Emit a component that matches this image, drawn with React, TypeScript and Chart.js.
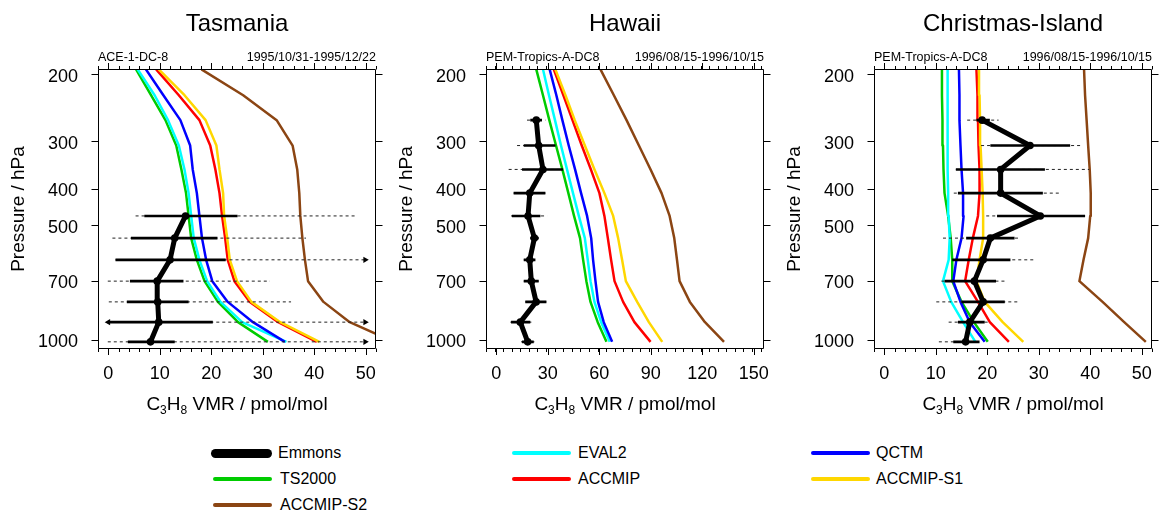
import React, { useEffect, useRef } from 'react';
import { Chart, registerables } from 'chart.js';

Chart.register(...registerables);
Chart.defaults.font.family = '"Liberation Sans", Arial, Helvetica, sans-serif';
Chart.defaults.color = '#000';

// ---------- shared axes ----------
// standard-atmosphere pressure (hPa) of the 0..12 km sampling levels
const pressureLevels = [1013, 899, 795, 701, 616, 540, 472, 411, 356, 308, 264, 227, 194];
const pressureTicks = [200, 300, 400, 500, 700, 1000];
const pressureMin = 193.6;
const pressureMax = 1058;

const modelNames = ['TS2000', 'EVAL2', 'QCTM', 'ACCMIP', 'ACCMIP-S1', 'ACCMIP-S2'];
const modelColors = ['#00CC00', '#00FFFF', '#0000FF', '#FF0000', '#FFD700', '#8B4513'];

// ---------- Tasmania ----------
const tasXTicks = [0, 10, 20, 30, 40, 50];
const tasTS2000 = [31.0, 25.2, 21.3, 18.7, 17.2, 16.1, 15.6, 15.1, 14.2, 13.2, 11.1, 8.3, 5.4];
const tasEVAL2 = [34.6, 26.0, 21.8, 19.2, 17.7, 16.6, 16.1, 15.6, 14.8, 13.7, 11.6, 9.0, 5.7];
const tasQCTM = [34.3, 28.1, 23.2, 20.2, 19.0, 18.2, 17.7, 17.2, 16.4, 15.9, 14.0, 10.7, 7.3];
const tasACCMIP = [40.5, 33.0, 27.5, 24.5, 23.2, 22.7, 22.1, 21.6, 20.8, 19.8, 17.7, 13.7, 9.3];
const tasACCMIPS1 = [41.0, 33.4, 27.8, 25.0, 23.6, 23.1, 22.5, 22.3, 21.6, 21.0, 18.9, 14.8, 9.8];
const tasACCMIPS2 = [55.5, 46.9, 41.8, 38.8, 38.2, 37.7, 37.3, 37.1, 36.7, 35.8, 32.7, 26.2, 18.1];
const tasEmmons = [8.2, 9.8, 9.6, 9.5, 12.0, 12.9, 15.0];
const tasSigmaLo = [3.8, 0.0, 3.6, 4.2, 1.4, 4.4, 7.0];
const tasSigmaHi = [12.9, 20.3, 15.6, 14.6, 22.8, 21.2, 25.1];
const tasRangeLo = [-0.1, 0.0, 0.1, -0.1, 1.4, 0.8, 5.3];
const tasRangeHi = [49.9, 49.9, 35.5, 31.4, 49.9, 38.4, 47.9];
const tasArrowX = [49.9, 0.0, 49.9, 49.9];
const tasArrowP = [1013, 899, 899, 616];
const tasArrowRot = [90, -90, 90, 90];

// ---------- Hawaii ----------
const hawXTicks = [0, 30, 60, 90, 120, 150];
const hawTS2000 = [64.2, 59.1, 54.9, 52.5, 50.6, 48.8, 45.3, 42.0, 38.5, 34.8, 30.9, 27.2, 23.3];
const hawEVAL2 = [66.1, 61.1, 57.2, 54.9, 53.3, 51.6, 48.1, 44.7, 41.2, 37.7, 34.2, 30.7, 27.2];
const hawQCTM = [67.5, 62.6, 59.3, 57.8, 56.4, 55.3, 52.9, 49.4, 45.9, 42.2, 38.5, 35.0, 31.1];
const hawACCMIP = [89.9, 80.5, 73.9, 68.9, 66.9, 65.0, 63.0, 60.1, 55.1, 49.8, 44.4, 39.1, 33.5];
const hawACCMIPS1 = [96.7, 88.9, 82.1, 75.5, 73.3, 71.0, 68.1, 63.0, 57.2, 51.6, 45.7, 40.3, 34.4];
const hawACCMIPS2 = [132.7, 121.6, 112.8, 106.8, 105.3, 103.7, 101.0, 96.3, 89.9, 83.1, 75.9, 68.5, 60.7];
const hawEmmons = [18.3, 14.0, 23.2, 20.4, 19.5, 22.2, 18.5, 19.5, 27.2, 24.7, 23.3];
const hawSigmaLo = [15.0, 8.6, 16.9, 16.0, 16.0, 19.8, 9.1, 10.1, 15.0, 16.0, 19.8];
const hawSigmaHi = [21.8, 19.8, 29.2, 24.7, 22.8, 24.7, 25.7, 28.6, 38.9, 34.4, 26.6];
const hawRangeLo = [14.4, 8.2, 16.9, 16.0, 16.0, 19.8, 8.6, 10.1, 7.2, 12.1, 17.9];
const hawRangeHi = [22.2, 21.4, 29.2, 24.7, 22.8, 24.7, 29.6, 28.6, 38.9, 34.4, 28.6];

// ---------- Christmas Island ----------
const chrXTicks = [0, 10, 20, 30, 40, 50];
const chrTS2000 = [20.1, 17.4, 15.0, 13.2, 13.2, 12.9, 12.4, 11.7, 11.5, 11.4, 11.3, 11.2, 11.2];
const chrEVAL2 = [17.7, 15.3, 13.0, 11.4, 12.5, 12.7, 12.5, 12.4, 12.3, 12.3, 12.3, 12.3, 12.3];
const chrQCTM = [19.5, 16.6, 14.8, 13.4, 14.0, 15.0, 15.4, 15.3, 15.0, 14.8, 14.6, 14.6, 14.5];
const chrACCMIP = [24.2, 20.5, 18.2, 15.7, 16.4, 17.2, 18.2, 18.5, 18.5, 18.3, 18.2, 18.1, 17.9];
const chrACCMIPS1 = [27.0, 23.0, 19.5, 17.9, 18.5, 19.2, 19.2, 19.1, 18.9, 18.7, 18.6, 18.5, 18.4];
const chrACCMIPS2 = [50.8, 46.6, 42.4, 37.9, 38.7, 39.6, 40.0, 40.1, 39.9, 39.6, 39.3, 39.0, 38.8];
const chrEmmons = [15.8, 16.6, 19.2, 17.5, 19.2, 20.6, 30.3, 22.6, 22.6, 28.3, 19.0];
const chrSigmaLo = [13.4, 14.3, 15.0, 11.7, 13.2, 15.9, 21.9, 14.3, 13.9, 20.6, 17.9];
const chrSigmaHi = [18.5, 19.5, 23.4, 21.7, 24.5, 25.3, 39.0, 30.8, 31.2, 36.1, 20.5];
const chrRangeLo = [10.6, 12.5, 10.1, 11.1, 13.2, 11.4, 19.8, 13.5, 13.9, 18.8, 16.1];
const chrRangeHi = [18.5, 20.1, 26.3, 23.4, 29.3, 26.3, 39.0, 34.0, 39.8, 38.2, 22.2];

type PanelDef = {
  title: string;
  campaign: string;
  period: string;
  xMin: number;
  xMax: number;
  xTicks: number[];
  xMinorStep: number;
  models: number[][];
  emmons: number[];
  sigmaLo: number[];
  sigmaHi: number[];
  rangeLo: number[];
  rangeHi: number[];
  arrowX: number[];
  arrowP: number[];
  arrowRot: number[];
};

const panels: PanelDef[] = [
  {
    title: 'Tasmania', campaign: 'ACE-1-DC-8', period: '1995/10/31-1995/12/22',
    xMin: -2, xMax: 52, xTicks: tasXTicks, xMinorStep: 2,
    models: [tasTS2000, tasEVAL2, tasQCTM, tasACCMIP, tasACCMIPS1, tasACCMIPS2],
    emmons: tasEmmons, sigmaLo: tasSigmaLo, sigmaHi: tasSigmaHi, rangeLo: tasRangeLo, rangeHi: tasRangeHi,
    arrowX: tasArrowX, arrowP: tasArrowP, arrowRot: tasArrowRot,
  },
  {
    title: 'Hawaii', campaign: 'PEM-Tropics-A-DC8', period: '1996/08/15-1996/10/15',
    xMin: -6, xMax: 156, xTicks: hawXTicks, xMinorStep: 5,
    models: [hawTS2000, hawEVAL2, hawQCTM, hawACCMIP, hawACCMIPS1, hawACCMIPS2],
    emmons: hawEmmons, sigmaLo: hawSigmaLo, sigmaHi: hawSigmaHi, rangeLo: hawRangeLo, rangeHi: hawRangeHi,
    arrowX: [], arrowP: [], arrowRot: [],
  },
  {
    title: 'Christmas-Island', campaign: 'PEM-Tropics-A-DC8', period: '1996/08/15-1996/10/15',
    xMin: -2, xMax: 52, xTicks: chrXTicks, xMinorStep: 2,
    models: [chrTS2000, chrEVAL2, chrQCTM, chrACCMIP, chrACCMIPS1, chrACCMIPS2],
    emmons: chrEmmons, sigmaLo: chrSigmaLo, sigmaHi: chrSigmaHi, rangeLo: chrRangeLo, rangeHi: chrRangeHi,
    arrowX: [], arrowP: [], arrowRot: [],
  },
];

const CANVAS_W = 387;
const CANVAS_H = 430;
const FONT = '"Liberation Sans", Arial, Helvetica, sans-serif';

function barData(lo: number[], hi: number[]) {
  const out: any[] = [];
  lo.forEach((v, i) => {
    out.push({ x: v, y: pressureLevels[i] });
    out.push({ x: hi[i], y: pressureLevels[i] });
    out.push({ x: null, y: null });
  });
  return out;
}

function makeFramePlugin(p: PanelDef) {
  return {
    id: 'frame',
    afterDraw(chart: any) {
      const { ctx, chartArea: a, scales } = chart;
      const xs = scales.x;
      const ys = scales.y;
      const L = Math.round(a.left) + 0.5;
      const R = Math.round(a.right) - 0.5;
      const T = Math.round(a.top) + 0.5;
      const B = Math.round(a.bottom) - 0.5;
      ctx.save();
      ctx.strokeStyle = '#000';
      ctx.lineWidth = 1;
      ctx.beginPath();
      ctx.rect(L, T, R - L, B - T);
      for (let v = p.xMin; v <= p.xMax + 1e-9; v += p.xMinorStep) {
        const px = Math.round(xs.getPixelForValue(v)) + 0.5;
        ctx.moveTo(px, B); ctx.lineTo(px, B + 3.5);
        ctx.moveTo(px, T); ctx.lineTo(px, T - 3.5);
      }
      p.xTicks.forEach((v) => {
        const px = Math.round(xs.getPixelForValue(v)) + 0.5;
        ctx.moveTo(px, B); ctx.lineTo(px, B + 6.5);
        ctx.moveTo(px, T); ctx.lineTo(px, T - 6.5);
      });
      pressureTicks.forEach((v) => {
        const py = Math.round(ys.getPixelForValue(v)) + 0.5;
        ctx.moveTo(L - 7, py); ctx.lineTo(L, py);
        ctx.moveTo(R, py); ctx.lineTo(R + 7, py);
      });
      ctx.stroke();

      ctx.fillStyle = '#000';
      ctx.font = `12.5px ${FONT}`;
      ctx.textBaseline = 'alphabetic';
      ctx.textAlign = 'left';
      ctx.fillText(p.campaign, a.left, 60.5);
      ctx.textAlign = 'right';
      ctx.fillText(p.period, a.right, 60.5);

      const parts = [
        { t: 'C', sub: false },
        { t: '3', sub: true },
        { t: 'H', sub: false },
        { t: '8', sub: true },
        { t: ' VMR / pmol/mol', sub: false },
      ];
      const bigFont = `19px ${FONT}`;
      const subFont = `12px ${FONT}`;
      let total = 0;
      const widths = parts.map((pt) => {
        ctx.font = pt.sub ? subFont : bigFont;
        const w = ctx.measureText(pt.t).width;
        total += w;
        return w;
      });
      let x = (a.left + a.right) / 2 - total / 2;
      ctx.textAlign = 'left';
      parts.forEach((pt, i) => {
        ctx.font = pt.sub ? subFont : bigFont;
        ctx.fillText(pt.t, x, pt.sub ? 414 : 410);
        x += widths[i];
      });
      ctx.restore();
    },
  };
}

function buildConfig(p: PanelDef): any {
  const datasets: any[] = [];
  datasets.push({
    label: 'arrows',
    data: p.arrowX.map((v, i) => ({ x: v, y: p.arrowP[i] })),
    showLine: false,
    pointStyle: 'triangle',
    pointRadius: 3.6,
    pointRotation: p.arrowRot,
    pointBackgroundColor: '#000',
    pointBorderColor: '#000',
    pointBorderWidth: 0,
  });
  datasets.push({
    label: 'Emmons',
    data: p.emmons.map((v, i) => ({ x: v, y: pressureLevels[i] })),
    borderColor: '#000',
    backgroundColor: '#000',
    borderWidth: 5,
    borderJoinStyle: 'round',
    borderCapStyle: 'round',
    pointRadius: 3.8,
    pointBackgroundColor: '#000',
    pointBorderWidth: 0,
  });
  datasets.push({
    label: 'sigma',
    data: barData(p.sigmaLo, p.sigmaHi),
    borderColor: '#000',
    borderWidth: 2.6,
    pointRadius: 0,
    spanGaps: false,
  });
  datasets.push({
    label: 'range',
    data: barData(p.rangeLo, p.rangeHi),
    borderColor: '#222',
    borderWidth: 1,
    borderDash: [3, 3],
    pointRadius: 0,
    spanGaps: false,
  });
  for (let m = p.models.length - 1; m >= 0; m--) {
    datasets.push({
      label: modelNames[m],
      data: p.models[m].map((v, i) => ({ x: v, y: pressureLevels[i] })),
      borderColor: modelColors[m],
      backgroundColor: modelColors[m],
      borderWidth: 2.5,
      pointRadius: 0,
      borderJoinStyle: 'round',
    });
  }

  return {
    type: 'line',
    data: { datasets },
    plugins: [makeFramePlugin(p)],
    options: {
      responsive: false,
      animation: false,
      devicePixelRatio: 1,
      events: [],
      layout: { padding: { left: 0, right: CANVAS_W - 376, top: 0, bottom: 0 } },
      plugins: {
        legend: { display: false },
        tooltip: { enabled: false },
        title: {
          display: true,
          fullSize: false,
          text: p.title,
          color: '#000',
          font: { size: 24, weight: 'normal', lineHeight: 1 },
          padding: { top: 12, bottom: 33 },
        },
      },
      scales: {
        x: {
          type: 'linear',
          position: 'bottom',
          min: p.xMin,
          max: p.xMax,
          afterBuildTicks: (s: any) => { s.ticks = p.xTicks.map((v) => ({ value: v })); },
          afterFit: (s: any) => { s.height = CANVAS_H - 349; s.paddingLeft = 0; s.paddingRight = 0; },
          grid: { display: false, drawTicks: false },
          border: { display: false },
          ticks: {
            color: '#000',
            font: { size: 18, lineHeight: 1 },
            padding: 16.5,
            maxRotation: 0,
            autoSkip: false,
            callback: (v: any) => String(v),
          },
        },
        y: {
          type: 'logarithmic',
          position: 'left',
          reverse: true,
          min: pressureMin,
          max: pressureMax,
          afterBuildTicks: (s: any) => { s.ticks = pressureTicks.map((v) => ({ value: v })); },
          afterFit: (s: any) => { s.width = 98; s.paddingTop = 0; s.paddingBottom = 0; },
          grid: { display: false, drawTicks: false },
          border: { display: false },
          ticks: {
            color: '#000',
            font: { size: 18, lineHeight: 1 },
            padding: 20,
            labelOffset: 2.5,
            autoSkip: false,
            callback: (v: any) => String(v),
          },
          title: {
            display: true,
            text: 'Pressure / hPa',
            color: '#000',
            font: { size: 19, lineHeight: 1 },
            padding: { top: 9, bottom: 0 },
          },
        },
      },
    },
  };
}

function Panel({ def, left }: { def: PanelDef; left: number }) {
  const ref = useRef<HTMLCanvasElement>(null);
  useEffect(() => {
    const chart = new Chart(ref.current as HTMLCanvasElement, buildConfig(def));
    return () => chart.destroy();
  }, [def]);
  return (
    <canvas
      ref={ref}
      width={CANVAS_W}
      height={CANVAS_H}
      style={{ position: 'absolute', left, top: 0, width: CANVAS_W, height: CANVAS_H }}
    />
  );
}

const legendItems = [
  { name: 'Emmons', color: '#000', col: 0, row: 0, thick: 9 },
  { name: 'EVAL2', color: modelColors[1], col: 1, row: 0, thick: 4.5 },
  { name: 'QCTM', color: modelColors[2], col: 2, row: 0, thick: 4.5 },
  { name: 'TS2000', color: modelColors[0], col: 0, row: 1, thick: 4.5 },
  { name: 'ACCMIP', color: modelColors[3], col: 1, row: 1, thick: 4.5 },
  { name: 'ACCMIP-S1', color: modelColors[4], col: 2, row: 1, thick: 4.5 },
  { name: 'ACCMIP-S2', color: modelColors[5], col: 0, row: 2, thick: 4.5 },
];
const legendLineX = [213, 512, 811];
const legendTextX = [280, 578, 876];
const legendRowY = [453, 479, 505];

export default function App() {
  return (
    <div style={{ position: 'absolute', left: 0, top: 0, width: 1163, height: 516, background: '#fff', overflow: 'hidden' }}>
      {panels.map((p, i) => (
        <Panel key={p.title} def={p} left={388 * i} />
      ))}
      {legendItems.map((it) => {
        const y = legendRowY[it.row];
        return (
          <React.Fragment key={it.name}>
            <div
              style={{
                position: 'absolute',
                left: legendLineX[it.col] - (it.thick > 5 ? 2 : 0),
                top: y - it.thick / 2,
                width: 59 + (it.thick > 5 ? 2 : 0),
                height: it.thick,
                borderRadius: it.thick / 2,
                background: it.color,
              }}
            />
            <div
              style={{
                position: 'absolute',
                left: legendTextX[it.col] - (it.thick > 5 ? 2 : 0),
                top: y - 9,
                height: 18,
                lineHeight: '18px',
                fontSize: 16,
                fontFamily: FONT,
                color: '#000',
                whiteSpace: 'nowrap',
              }}
            >
              {it.name}
            </div>
          </React.Fragment>
        );
      })}
    </div>
  );
}
